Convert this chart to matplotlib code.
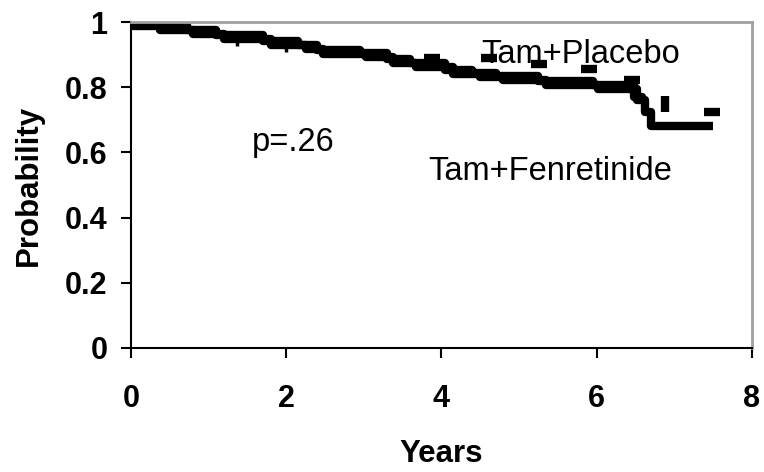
import numpy as np
import matplotlib
matplotlib.use("Agg")
from matplotlib import pyplot as plt

# Kaplan-Meier steps
plac_years = [0, 0.30, 0.72, 1.1, 1.7, 2.15, 2.4, 2.95, 3.3, 3.6, 4.05, 4.4,
              4.7, 5.25, 5.95, 6.48, 6.58]
plac_prob = [0.997, 0.99, 0.975, 0.962, 0.943, 0.929, 0.914, 0.905, 0.886, 0.874, 0.853, 0.843,
             0.834, 0.819, 0.806, 0.77, 0.75]

fen_years = [0, 0.37, 0.8, 1.2, 1.8, 2.25, 2.48, 3.03, 3.38, 3.67, 4.15, 4.5,
             4.8, 5.35, 6.02, 6.52, 6.62, 6.70, 7.5]
fen_prob = [0.987, 0.977, 0.963, 0.948, 0.931, 0.917, 0.902, 0.893, 0.874, 0.862, 0.841, 0.831,
            0.822, 0.807, 0.794, 0.76, 0.725, 0.68, 0.68]

# censored observations
cens_years = [3.88, 4.61, 5.26, 5.90, 6.45, 7.49]
cens_prob = [0.89, 0.891, 0.871, 0.856, 0.822, 0.724]
tall_years = [6.88]
tall_prob = [0.75]
tick_years = [1.37, 2.0, 2.47]
tick_prob = [0.94, 0.922, 0.918]

xticks = [0, 2, 4, 6, 8]
yticks = [0, 0.2, 0.4, 0.6, 0.8, 1]
ytick_labels = ["0", "0.2", "0.4", "0.6", "0.8", "1"]

plt.rcParams['font.family'] = ['Liberation Sans', 'DejaVu Sans']

fig = plt.figure(figsize=(7.64, 4.72), dpi=100)
ax = fig.add_axes([0.1715, 0.263, 0.8125, 0.69])

ax.step(plac_years, plac_prob, where="post", color="black", lw=6, solid_capstyle="butt")
ax.step(fen_years, fen_prob, where="post", color="black", lw=6, solid_capstyle="butt")
ax.plot(cens_years, cens_prob, ls="none", marker="_", ms=12, mew=6, color="black")
ax.plot(tall_years, tall_prob, ls="none", marker="|", ms=11.5, mew=6, color="black")
ax.plot(tick_years, tick_prob, ls="none", marker="|", ms=6, mew=2.5, color="black")

ax.text(1.56, 0.632, "p=.26", fontsize=23.5, ha="left", va="center")
ax.text(3.83, 0.54, "Tam+Fenretinide", fontsize=23.5, ha="left", va="center")
ax.text(4.52, 0.90, "Tam+Placebo", fontsize=23.5, ha="left", va="center")

ax.set_xlim(0, 8)
ax.set_ylim(0, 1)
ax.set_xticks(xticks)
ax.set_xticklabels([str(v) for v in xticks], fontweight="bold", fontsize=22)
ax.set_yticks(yticks)
ax.set_yticklabels(ytick_labels, fontweight="bold", fontsize=22)
ax.tick_params(axis="both", direction="out", length=7, width=1.5)
ax.tick_params(axis="x", pad=19)
ax.tick_params(axis="y", pad=10)

for side in ["left", "bottom"]:
    ax.spines[side].set_color("black")
    ax.spines[side].set_linewidth(1.5)
for side in ["top", "right"]:
    ax.spines[side].set_color("#a0a0a0")
    ax.spines[side].set_linewidth(2)

ax.set_xlabel("Years", fontweight="bold", fontsize=22.5, labelpad=18)
ax.set_ylabel("Probability", fontweight="bold", fontsize=22.5, labelpad=15)

fig.savefig("out.png", dpi=100)
